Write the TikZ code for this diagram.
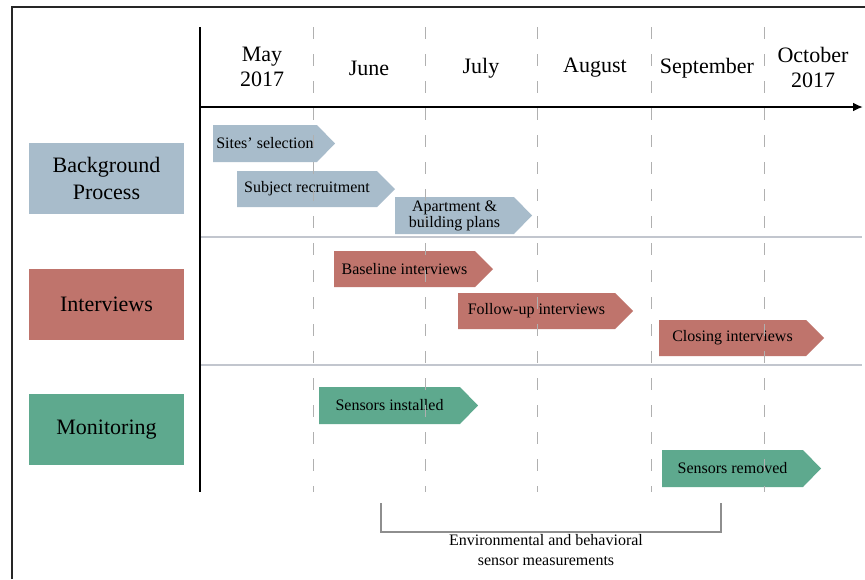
\documentclass[tikz,border=0pt]{standalone}
\usepackage{fontspec}
\setmainfont{Liberation Serif}
\usetikzlibrary{arrows.meta}
\definecolor{bgblue}{HTML}{A8BCCB}
\definecolor{intred}{HTML}{BF746C}
\definecolor{mongreen}{HTML}{5EA98E}
\definecolor{gridgray}{HTML}{B0B0B0}
\definecolor{sepgray}{HTML}{C2C6CE}
\definecolor{brackgray}{HTML}{8E8E8E}
\newcommand\taskbar[7]{%
  \fill[#5] (#1,#3) -- ({#2-18},#3) -- (#2,{(#3+#4)/2}) -- ({#2-18},#4) -- (#1,#4) -- cycle;
  \node[bartext] (#6) at ({(#1+#2-18)/2},{(#3+#4)/2}) {#7};
}
\tikzset{
  bartext/.style={inner sep=0pt, align=center, font=\fontsize{16}{19}\selectfont, text=black},
  monthlabel/.style={inner sep=0pt, align=center, font=\fontsize{22}{25}\selectfont},
  catbox/.style={minimum width=155pt, minimum height=71pt, inner sep=0pt, align=center,
                 font=\fontsize{22}{27}\selectfont},
  gridline/.style={gridgray, line width=1pt, dash pattern=on 12pt off 15pt},
  sepline/.style={sepgray, line width=1.5pt},
  frameline/.style={black!85, line width=1.3pt},
}
\begin{document}
\begin{tikzpicture}[x=1pt,y=-1pt]
\useasboundingbox (0,0) rectangle (865,579);
\fill[white] (0,0) rectangle (865,579);
% frame
\draw[frameline] (12,579) -- (12,7) -- (865,7);
% separators
\coordinate (s1a) at (200,237); \coordinate (s1b) at (862,237);
\coordinate (s2a) at (200,365); \coordinate (s2b) at (862,365);
\draw[sepline] (s1a) -- (s1b);
\draw[sepline] (s2a) -- (s2b);
% category boxes
\node[catbox, fill=bgblue] (bg) at (106.5,178.5) {Background\\Process};
\node[catbox, fill=intred] (iv) at (106.5,304) {Interviews};
\node[catbox, fill=mongreen] (mo) at (106.5,429.5) {Monitoring};
% bars
\taskbar{213}{335}{125}{162}{bgblue}{sites}{Sites’ selection}
\taskbar{237}{395}{171}{207}{bgblue}{subj}{Subject recruitment}
\taskbar{395}{532}{197}{234}{bgblue}{apt}{Apartment \&\\[-3pt]building plans}
\taskbar{334}{493}{251}{287}{intred}{base}{Baseline interviews}
\taskbar{458}{633}{293}{329}{intred}{follow}{Follow-up interviews}
\taskbar{659}{824}{320}{356}{intred}{closing}{Closing interviews}
\taskbar{319}{478}{387}{424}{mongreen}{inst}{Sensors installed}
\taskbar{662}{821}{450}{487}{mongreen}{remv}{Sensors removed}
% month grid
\foreach \x in {313,425,537,651,764} \draw[gridline] (\x,27) -- (\x,492);
% axes
\coordinate (vtop) at (200,27); \coordinate (vbot) at (200,492);
\draw[black, line width=1.6pt] (vtop) -- (vbot);
\coordinate (ha) at (200,107); \coordinate (hb) at (863,107);
\draw[black, line width=2pt, -{Latex[length=10pt,width=9pt]}] (ha) -- (hb);
% month labels
\node[monthlabel] (may) at (262,67) {May\\2017};
\node[monthlabel] (jun) at (369,68) {June};
\node[monthlabel] (jul) at (481,68) {July};
\node[monthlabel] (aug) at (595,68) {August};
\node[monthlabel] (sep) at (707,68) {September};
\node[monthlabel] (oct) at (813,67) {October\\2017};
% bracket
\coordinate (bl) at (381,503); \coordinate (br) at (721,503);
\draw[brackgray, line width=1.2pt] (bl) -- (381,532) -- (721,532) -- (br);
\node[bartext] (meas) at (546,550) {Environmental and behavioral\\[1pt]sensor measurements};
\end{tikzpicture}
\end{document}
